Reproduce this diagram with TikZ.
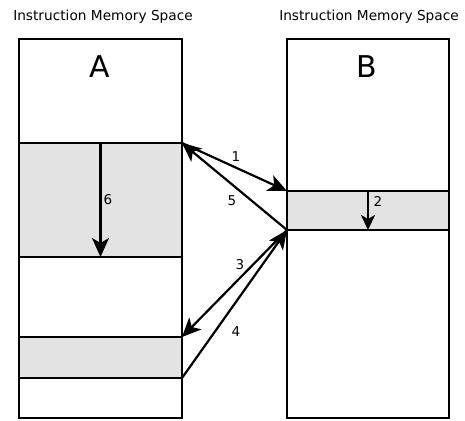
\documentclass[tikz,border=0pt]{standalone}
\usepackage{fontspec}
\setmainfont{DejaVu Sans}
\usetikzlibrary{arrows.meta}
\begin{document}
\begin{tikzpicture}[x=1pt,y=-1pt,
  membox/.style={draw=black,line width=2.2pt,rectangle,outer sep=0pt,inner sep=0pt},
  grayseg/.style={membox,fill=black!11},
  flow/.style={line width=2.2pt,-{Stealth[length=19pt,width=17pt,inset=5pt]}},
  num/.style={font=\fontsize{13.5}{15}\selectfont,inner sep=0pt},
  title/.style={font=\fontsize{13.7}{15}\selectfont,inner sep=0pt},
  big/.style={font=\fontsize{30}{32}\selectfont,inner sep=0pt}]
\useasboundingbox (0,0) rectangle (465,420);
\node[membox,minimum width=163pt,minimum height=379pt] (boxA) at (100.5,228.5) {};
\node[membox,minimum width=162pt,minimum height=379pt] (boxB) at (368,228.5) {};
\node[grayseg,minimum width=163pt,minimum height=114pt] (A1) at (100.5,200) {};
\node[grayseg,minimum width=163pt,minimum height=41pt] (A2) at (100.5,357.5) {};
\node[grayseg,minimum width=162pt,minimum height=39pt] (B1) at (368,210.5) {};
\node[title] (tA) at (103,17) {Instruction Memory Space};
\node[title] (tB) at (369,17) {Instruction Memory Space};
\node[big] (lA) at (100,67) {A};
\node[big] (lB) at (367,67) {B};
\draw[flow] (A1.north east) -- (B1.north west);
\draw[flow] (B1.south west) -- (A1.north east);
\draw[flow] (B1.south west) -- (A2.north east);
\draw[flow] (A2.south east) -- (B1.south west);
\draw[flow] (A1.north) -- (A1.south);
\draw[flow,-{Stealth[length=15pt,width=14pt,inset=4pt]}] (B1.north) -- (B1.south);
\node[num] (n1) at (236,157) {1};
\node[num] (n5) at (232,201) {5};
\node[num] (n3) at (240,265) {3};
\node[num] (n4) at (236,332) {4};
\node[num] (n6) at (108,200) {6};
\node[num] (n2) at (378,201) {2};
\end{tikzpicture}
\end{document}
